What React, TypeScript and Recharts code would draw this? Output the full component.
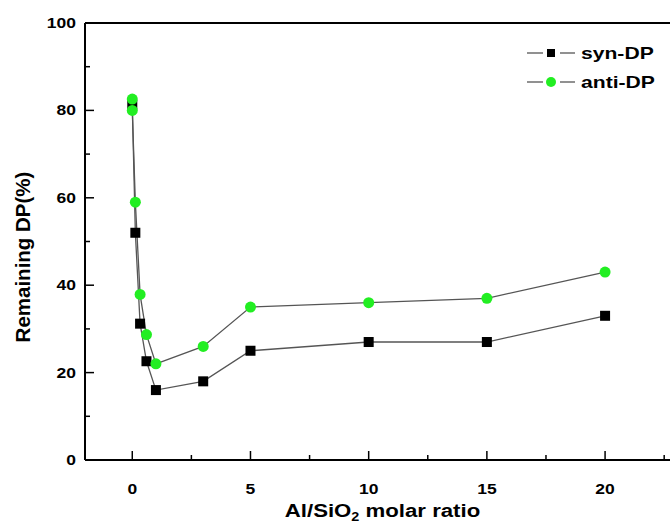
import { Label, Line, LineChart, ReferenceLine, XAxis, YAxis } from "recharts";

const synX = [0, 0.13, 0.33, 0.6, 1, 3, 5, 10, 15, 20];
const synY = [81.3, 52, 31.2, 22.6, 16, 18, 25, 27, 27, 33];
const antiX = [0, 0, 0.13, 0.33, 0.6, 1, 3, 5, 10, 15, 20];
const antiY = [82.6, 80, 59, 37.9, 28.7, 22, 26, 35, 36, 37, 43];

const xTicks = [0, 2.5, 5, 7.5, 10, 12.5, 15, 17.5, 20, 22.5];
const yTicks = [0, 10, 20, 30, 40, 50, 60, 70, 80, 90, 100];

const synData = synX.map((x, i) => ({ x, y: synY[i] }));
const antiData = antiX.map((x, i) => ({ x, y: antiY[i] }));

const FONT = "'Liberation Sans', Arial, sans-serif";
const GREEN = "#22ee22";
const LINE = "#555";

function XTick({ x, y, payload }: any) {
  const v = payload.value;
  const major = v % 5 === 0;
  return (
    <g>
      <line x1={x} y1={y} x2={x} y2={y - (major ? 9 : 5)} stroke="#000" strokeWidth={1.5} />
      {major && (
        <text
          transform={`translate(${x},${y + 34}) scale(1.25,1)`}
          textAnchor="middle"
          fontFamily={FONT}
          fontWeight="bold"
          fontSize={14}
          fill="#000"
        >
          {v}
        </text>
      )}
    </g>
  );
}

function YTick({ x, y, payload }: any) {
  const v = payload.value;
  const major = v % 20 === 0;
  return (
    <g>
      <line x1={x} y1={y} x2={x + (major ? 9 : 5)} y2={y} stroke="#000" strokeWidth={1.5} />
      {major && (
        <text
          transform={`translate(${x - 9},${y + 5}) scale(1.25,1)`}
          textAnchor="end"
          fontFamily={FONT}
          fontWeight="bold"
          fontSize={14}
          fill="#000"
        >
          {v}
        </text>
      )}
    </g>
  );
}

function SquareDot({ cx, cy }: any) {
  return <rect x={cx - 5} y={cy - 5} width={10} height={10} fill="#000" />;
}

function CircleDot({ cx, cy }: any) {
  return <circle cx={cx} cy={cy} r={5.5} fill={GREEN} />;
}

function XLabel({ viewBox }: any) {
  const cx = viewBox.x + viewBox.width / 2 + 2;
  return (
    <text
      transform={`translate(${cx},517) scale(1.2,1)`}
      textAnchor="middle"
      fontFamily={FONT}
      fontWeight="bold"
      fontSize={18.5}
      fill="#000"
    >
      Al/SiO
      <tspan fontSize={12} dy={4}>2</tspan>
      <tspan dy={-4}> molar ratio</tspan>
    </text>
  );
}

function YLabel() {
  return (
    <text
      transform="translate(30,257) rotate(-90)"
      textAnchor="middle"
      fontFamily={FONT}
      fontWeight="bold"
      fontSize={20.5}
      fill="#000"
    >
      Remaining DP(%)
    </text>
  );
}

function LegendBox() {
  const rows = [
    { name: "syn-DP", y: 18, square: true },
    { name: "anti-DP", y: 47, square: false },
  ];
  return (
    <svg width={150} height={60} style={{ position: "absolute", left: 520, top: 35 }}>
      {rows.map((r) => (
        <g key={r.name}>
          <line x1={7} y1={r.y} x2={23} y2={r.y} stroke={LINE} strokeWidth={1.3} />
          <line x1={40} y1={r.y} x2={55} y2={r.y} stroke={LINE} strokeWidth={1.3} />
          {r.square ? (
            <rect x={27} y={r.y - 4} width={8} height={8} fill="#000" />
          ) : (
            <circle cx={31} cy={r.y} r={5} fill={GREEN} />
          )}
          <text
            transform={`translate(61,${r.y + 6}) scale(1.28,1)`}
            fontFamily={FONT}
            fontWeight="bold"
            fontSize={16.5}
            fill="#000"
          >
            {r.name}
          </text>
        </g>
      ))}
    </svg>
  );
}

export default function App() {
  return (
    <div
      style={{
        position: "absolute",
        left: 0,
        top: 0,
        width: 670,
        height: 524,
        overflow: "hidden",
        background: "#fff",
      }}
    >
      <LineChart width={690} height={524} margin={{ top: 23, right: 14, bottom: 0, left: 1 }}>
        <XAxis
          type="number"
          dataKey="x"
          domain={[-2, 23]}
          ticks={xTicks}
          interval={0}
          allowDataOverflow
          height={64}
          tickSize={0}
          tickMargin={0}
          tickLine={false}
          tick={<XTick />}
          axisLine={{ stroke: "#000", strokeWidth: 2 }}
        >
          <Label content={<XLabel />} />
        </XAxis>
        <YAxis
          type="number"
          dataKey="y"
          domain={[0, 100]}
          ticks={yTicks}
          interval={0}
          width={84}
          tickSize={0}
          tickMargin={0}
          tickLine={false}
          tick={<YTick />}
          axisLine={{ stroke: "#000", strokeWidth: 2 }}
        >
          <Label content={<YLabel />} />
        </YAxis>
        <ReferenceLine y={100} stroke="#000" strokeWidth={2} />
        <Line
          data={synData}
          dataKey="y"
          name="syn-DP"
          type="linear"
          stroke={LINE}
          strokeWidth={1.3}
          dot={<SquareDot />}
          activeDot={false}
          isAnimationActive={false}
        />
        <Line
          data={antiData}
          dataKey="y"
          name="anti-DP"
          type="linear"
          stroke={LINE}
          strokeWidth={1.3}
          dot={<CircleDot />}
          activeDot={false}
          isAnimationActive={false}
        />
      </LineChart>
      <LegendBox />
    </div>
  );
}
